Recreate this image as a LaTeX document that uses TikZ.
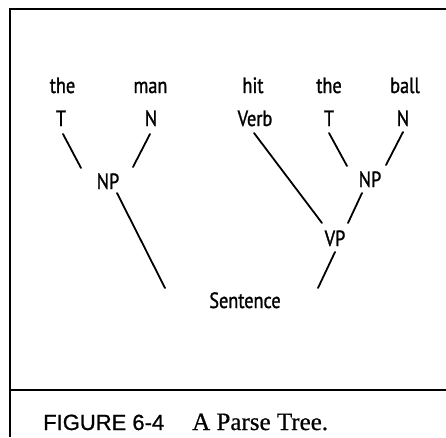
\documentclass[tikz,border=0pt]{standalone}
\usepackage{fontspec}
\newfontfamily\treefont[FakeStretch=0.83,FakeBold=1.2]{PT Sans}
\newfontfamily\capsans[FakeBold=0.8]{Liberation Sans}
\newfontfamily\capserif[FakeBold=0.6]{Liberation Serif}
\begin{document}
\begin{tikzpicture}[x=1pt,y=-1pt,
  lbl/.style={anchor=base,inner sep=0pt,font=\treefont\fontsize{22}{24}\selectfont},
  edge/.style={line width=1.8pt,line cap=round,black},
  frame/.style={line width=1.8pt,black}]
\useasboundingbox (0,0) rectangle (446,437);
% frame
\coordinate (fb) at (10,437);
\coordinate (fc) at (10,9);
\coordinate (fr) at (446,9);
\coordinate (hl) at (10,390);
\coordinate (hr) at (446,390);
\draw[frame] (fb) -- (fc) -- (fr);
\draw[frame] (hl) -- (hr);
% words
\node[lbl] (w1) at (62.5,93) {the};
\node[lbl] (w2) at (150.5,93) {man};
\node[lbl] (w3) at (253,93) {hit};
\node[lbl] (w4) at (329,93) {the};
\node[lbl] (w5) at (405,93) {ball};
% categories
\node[lbl] (T1) at (61,126) {T};
\node[lbl] (N1) at (151,126) {N};
\node[lbl] (V) at (255,126) {Verb};
\node[lbl] (T2) at (329,126) {T};
\node[lbl] (N2) at (403,126) {N};
\node[lbl] (NP1) at (108,189) {NP};
\node[lbl] (NP2) at (370,187) {NP};
\node[lbl] (VP) at (335,246) {VP};
\node[lbl] (S) at (245,308) {Sentence};
% edges
\draw[edge] ([shift={(2,8)}]T1.base) -- ([shift={(-27,-21)}]NP1.base);
\draw[edge] ([shift={(-1,8)}]N1.base) -- ([shift={(25,-22)}]NP1.base);
\draw[edge] ([shift={(9,4)}]NP1.base) -- ([shift={(-80,-20)}]S.base);
\draw[edge] ([shift={(-1,7)}]V.base) -- ([shift={(-13,-23)}]VP.base);
\draw[edge] ([shift={(0,7)}]T2.base) -- ([shift={(-23,-21)}]NP2.base);
\draw[edge] ([shift={(0,6)}]N2.base) -- ([shift={(16,-22)}]NP2.base);
\draw[edge] ([shift={(-8,6)}]NP2.base) -- ([shift={(13,-23)}]VP.base);
\draw[edge] ([shift={(0,6)}]VP.base) -- ([shift={(73,-20)}]S.base);
% caption
\node[anchor=base west,inner sep=0pt,font=\capsans\fontsize{22}{24}\selectfont] (cap1) at (43,430) {FIGURE 6-4};
\node[anchor=base west,inner sep=0pt,font=\capserif\fontsize{25}{27}\selectfont] (cap2) at (192,430) {A Parse Tree.};
\end{tikzpicture}
\end{document}
